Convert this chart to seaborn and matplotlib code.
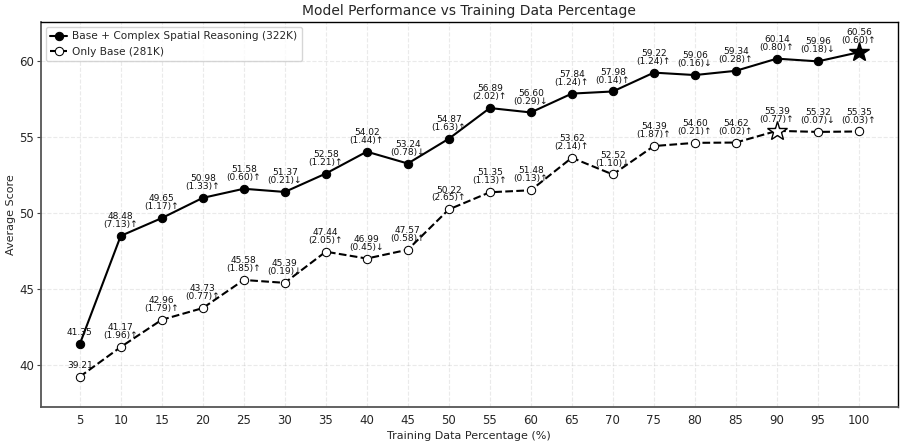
import matplotlib
matplotlib.use("Agg")
import matplotlib.pyplot as plt
import seaborn as sns
import numpy as np
import pandas as pd

percentages = [5, 10, 15, 20, 25, 30, 35, 40, 45, 50, 55, 60, 65, 70, 75, 80, 85, 90, 95, 100]
complex_scores = [41.35, 48.48, 49.65, 50.98, 51.58, 51.37, 52.58, 54.02, 53.24, 54.87,
                  56.89, 56.60, 57.84, 57.98, 59.22, 59.06, 59.34, 60.14, 59.96, 60.56]
base_scores = [39.21, 41.17, 42.96, 43.73, 45.58, 45.39, 47.44, 46.99, 47.57, 50.22,
               51.35, 51.48, 53.62, 52.52, 54.39, 54.60, 54.62, 55.39, 55.32, 55.35]
label_complex = "Base + Complex Spatial Reasoning (322K)"
label_base = "Only Base (281K)"

sns.set_style("white")
plt.rcParams['font.family'] = ['DejaVu Sans']

fig, ax = plt.subplots(figsize=(9.06, 4.46), dpi=100)

df_c = pd.DataFrame({"pct": percentages, "score": complex_scores})
df_b = pd.DataFrame({"pct": percentages, "score": base_scores})

sns.lineplot(data=df_c, x="pct", y="score", ax=ax, color="black", linestyle="-",
             marker="o", markersize=6, markerfacecolor="black", markeredgecolor="black",
             linewidth=1.5, label=label_complex, zorder=3)
sns.lineplot(data=df_b, x="pct", y="score", ax=ax, color="black", linestyle="--",
             marker="o", markersize=6, markerfacecolor="white", markeredgecolor="black",
             linewidth=1.5, label=label_base, zorder=3)

# stars at maxima
ic = int(np.argmax(complex_scores))
ib = int(np.argmax(base_scores))
ax.plot([percentages[ic]], [complex_scores[ic]], marker="*", markersize=15,
        color="black", markerfacecolor="black", linestyle="none", zorder=5)
ax.plot([percentages[ib]], [base_scores[ib]], marker="*", markersize=15,
        color="black", markerfacecolor="white", linestyle="none", zorder=5)

def annotate(series):
    for i, (x, y) in enumerate(zip(percentages, series)):
        if i == 0:
            txt = f"{y:.2f}"
        else:
            d = y - series[i - 1]
            arrow = "↑" if d >= 0 else "↓"
            txt = f"{y:.2f}\n({abs(d):.2f}){arrow}"
        ax.annotate(txt, (x, y), xytext=(0, 5), textcoords="offset points",
                    ha="center", va="bottom", fontsize=6.5, linespacing=0.85,
                    color="#111111", zorder=6)

annotate(complex_scores)
annotate(base_scores)

ax.set_xticks(percentages)
ax.set_xlim(0.25, 104.75)
ymin = min(min(complex_scores), min(base_scores))
ymax = max(max(complex_scores), max(base_scores))
ax.set_ylim(ymin - 2, ymax + 2)
ax.set_xlabel("Training Data Percentage (%)", fontsize=8, labelpad=3)
ax.set_ylabel("Average Score", fontsize=8, labelpad=2)
ax.set_title("Model Performance vs Training Data Percentage", fontsize=10, pad=5)
ax.tick_params(axis="x", labelsize=8.5, length=0, pad=5, bottom=True)
ax.tick_params(axis="y", labelsize=8.5, length=3, pad=2, left=True, color="#444444")
ax.grid(True, linestyle="--", alpha=0.3, color="#bbbbbb")
for side in ["top", "right"]:
    ax.spines[side].set_color("black")
    ax.spines[side].set_linewidth(1.0)
for side in ["left", "bottom"]:
    ax.spines[side].set_color("#555555")
    ax.spines[side].set_linewidth(1.3)
ax.legend(loc="upper left", fontsize=7.6, frameon=True, handlelength=1.6,
          handletextpad=0.5, borderpad=0.4)

fig.subplots_adjust(left=0.045, right=0.991, top=0.951, bottom=0.087)
fig.savefig("out.png", dpi=100)
